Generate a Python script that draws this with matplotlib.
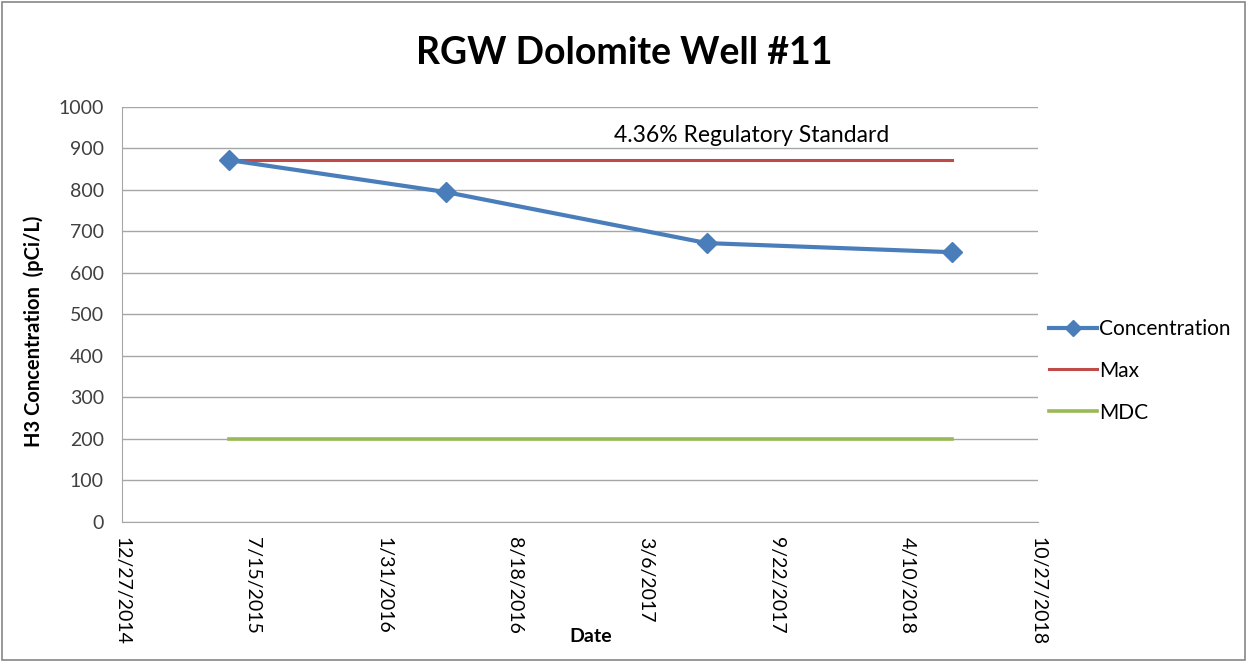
import pandas as pd
import matplotlib
matplotlib.use('Agg')
import matplotlib.pyplot as plt
import matplotlib.dates as mdates
from matplotlib.patches import Rectangle

# datos
fechas = pd.to_datetime(['2015-06-09', '2016-05-05', '2017-06-08', '2018-06-18'])
concentracion = [872, 795, 672, 650]
max_valor = [872, 872, 872, 872]
mdc = [200, 200, 200, 200]

inicio = pd.Timestamp('2014-12-27')
fin = pd.Timestamp('2018-10-27')
ticks_x = pd.date_range(inicio, fin, freq='200D')

plt.rcParams['font.family'] = ['Lato', 'DejaVu Sans']

fig = plt.figure(figsize=(12.47, 6.62), dpi=100)
ax = fig.add_axes([0.0978, 0.2115, 0.7346, 0.6269])

# borde exterior del grafico
fig.patches.append(Rectangle((0.002, 0.003), 0.996, 0.994, transform=fig.transFigure,
                             fill=False, edgecolor='#868686', linewidth=1.2))

ax.plot(fechas, concentracion, color='#4A7EBB', linewidth=3, marker='D',
        markersize=10, label='Concentration', zorder=4)
ax.plot(fechas, max_valor, color='#BE4B48', linewidth=2.2, label='Max', zorder=3)
ax.plot(fechas, mdc, color='#98B954', linewidth=2.6, label='MDC', zorder=3)

ax.text(pd.Timestamp('2017-01-17'), 932, '4.36% Regulatory Standard',
        fontsize=16.5, va='center', ha='left')

ax.set_xlim(inicio, fin)
ax.set_ylim(0, 1000)
ax.set_yticks(range(0, 1001, 100))
ax.set_xticks(ticks_x)
ax.xaxis.set_major_formatter(mdates.DateFormatter('%-m/%-d/%Y'))
plt.setp(ax.get_xticklabels(), rotation=270, ha='center', va='top')

ax.grid(axis='y', color='#A6A6A6', linewidth=1)
ax.set_axisbelow(True)
ax.tick_params(axis='both', labelsize=14, colors='#404040', length=0)
ax.tick_params(axis='y', pad=13)
ax.tick_params(axis='x', labelcolor='black', pad=11)
for lado in ['top', 'right']:
    ax.spines[lado].set_visible(False)
for lado in ['left', 'bottom']:
    ax.spines[lado].set_color('#A6A6A6')

fig.text(0.027, 0.5, 'H3 Concentration  (pCi/L)', fontsize=14.5, fontweight='bold',
         rotation=90, ha='center', va='center')
fig.text(0.474, 0.038, 'Date', fontsize=14, fontweight='bold', ha='center', va='center')
fig.text(0.501, 0.92, 'RGW Dolomite Well #11', fontsize=27, fontweight='bold',
         ha='center', va='center')

fig.legend(loc='center left', bbox_to_anchor=(0.826, 0.44), frameon=False,
           fontsize=15, handlelength=2.3, labelspacing=1.05, handletextpad=0.12,
           markerscale=0.8)

fig.savefig('out.png', dpi=100)
